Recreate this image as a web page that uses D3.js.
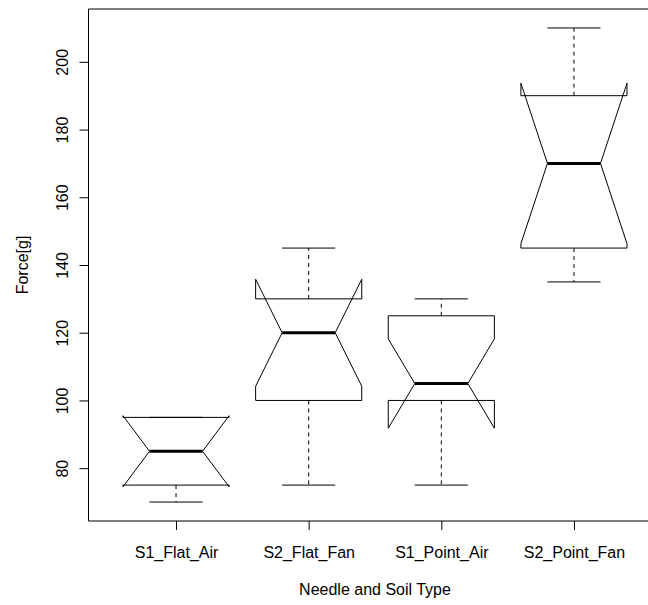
<!DOCTYPE html>
<html>
<head>
<meta charset="utf-8">
<script src="https://cdn.jsdelivr.net/npm/d3@7"></script>
<style>
  html, body { margin: 0; padding: 0; background: #fff; }
  svg { display: block; font-family: "Liberation Sans", Arial, Helvetica, sans-serif; }
</style>
</head>
<body>
<svg id="chart" width="648" height="605"></svg>
<script>
// Five-number summaries per needle/soil group, plus median notch limits
const categories    = ["S1_Flat_Air", "S2_Flat_Fan", "S1_Point_Air", "S2_Point_Fan"];
const whiskerLow    = [70, 75, 75, 135];
const quartileLow   = [75, 100, 100, 145];
const medians       = [85, 120, 105, 170];
const quartileHigh  = [95, 130, 125, 190];
const whiskerHigh   = [95, 145, 130, 210];
const notchLow      = [74.5, 104.2, 91.8, 146.3];
const notchHigh     = [95.5, 135.8, 118.2, 193.7];
const yTicks        = [80, 100, 120, 140, 160, 180, 200];

const boxes = categories.map((name, i) => ({
  name, pos: i + 1,
  lo: whiskerLow[i], q1: quartileLow[i], med: medians[i],
  q3: quartileHigh[i], hi: whiskerHigh[i],
  cLo: notchLow[i], cHi: notchHigh[i]
}));

const svg = d3.select("#chart");
const plot = { left: 88.5, right: 661.5, top: 9, bottom: 521 };

const x = d3.scaleLinear().domain([0.34, 4.66]).range([plot.left, plot.right]);
const y = d3.scaleLinear().domain([64.4, 215.6]).range([plot.bottom, plot.top]);

const boxHalf = 0.4;      // half of the box width, in group units
const notchFrac = 0.5;    // notch depth relative to the box half-width
const capHalf = 0.2;      // half of the whisker cap width

const g = svg.append("g");

// Whiskers (dashed) and caps
boxes.forEach(b => {
  const cx = x(b.pos);
  g.append("line")
    .attr("x1", cx).attr("x2", cx)
    .attr("y1", y(b.q3)).attr("y2", y(b.hi))
    .attr("stroke", "#000").attr("stroke-width", 1)
    .attr("stroke-dasharray", "4,4");
  g.append("line")
    .attr("x1", cx).attr("x2", cx)
    .attr("y1", y(b.q1)).attr("y2", y(b.lo))
    .attr("stroke", "#000").attr("stroke-width", 1)
    .attr("stroke-dasharray", "4,4");
  [b.hi, b.lo].forEach(v => {
    g.append("line")
      .attr("x1", x(b.pos - capHalf)).attr("x2", x(b.pos + capHalf))
      .attr("y1", y(v)).attr("y2", y(v))
      .attr("stroke", "#000").attr("stroke-width", 1);
  });
});

// Notched boxes
boxes.forEach(b => {
  const pts = [
    [b.pos - boxHalf, b.q1], [b.pos + boxHalf, b.q1], [b.pos + boxHalf, b.cLo],
    [b.pos + boxHalf * notchFrac, b.med], [b.pos + boxHalf, b.cHi], [b.pos + boxHalf, b.q3],
    [b.pos - boxHalf, b.q3], [b.pos - boxHalf, b.cHi], [b.pos - boxHalf * notchFrac, b.med],
    [b.pos - boxHalf, b.cLo]
  ];
  const line = d3.line().x(d => x(d[0])).y(d => y(d[1]));
  g.append("path")
    .attr("d", line(pts) + "Z")
    .attr("fill", "none")
    .attr("stroke", "#000").attr("stroke-width", 1)
    .attr("stroke-linejoin", "miter");
  g.append("line")
    .attr("x1", x(b.pos - boxHalf * notchFrac)).attr("x2", x(b.pos + boxHalf * notchFrac))
    .attr("y1", y(b.med)).attr("y2", y(b.med))
    .attr("stroke", "#000").attr("stroke-width", 3);
});

// Plot frame (the right edge falls outside the canvas)
svg.append("path")
  .attr("d", `M${plot.right},${plot.top}H${plot.left}V${plot.bottom}H${plot.right}`)
  .attr("fill", "none").attr("stroke", "#000").attr("stroke-width", 1);

// Y axis
const yAxis = svg.append("g").attr("transform", `translate(${plot.left},0)`)
  .call(d3.axisLeft(y).tickValues(yTicks).tickSize(9).tickPadding(0).tickFormat(d3.format("d")));
yAxis.select(".domain").remove();
yAxis.selectAll("line").attr("stroke", "#000");
yAxis.selectAll("text")
  .attr("x", null).attr("dy", null)
  .attr("transform", "translate(-21,0) rotate(-90)")
  .attr("text-anchor", "middle")
  .attr("fill", "#000")
  .style("font-size", "16px");

// X axis
const xAxis = svg.append("g").attr("transform", `translate(0,${plot.bottom})`)
  .call(d3.axisBottom(x).tickValues(boxes.map(b => b.pos)).tickSize(9).tickPadding(0)
    .tickFormat((d, i) => categories[i]));
xAxis.select(".domain").remove();
xAxis.selectAll("line").attr("stroke", "#000");
xAxis.selectAll("text")
  .attr("y", 37).attr("dy", null)
  .attr("fill", "#000")
  .style("font-size", "16px");

// Axis titles
svg.append("text")
  .attr("x", (plot.left + plot.right) / 2).attr("y", 595)
  .attr("text-anchor", "middle")
  .style("font-size", "16px")
  .text("Needle and Soil Type");

svg.append("text")
  .attr("transform", `translate(28,${(plot.top + plot.bottom) / 2}) rotate(-90)`)
  .attr("text-anchor", "middle")
  .style("font-size", "16px")
  .text("Force[g]");
</script>
</body>
</html>
